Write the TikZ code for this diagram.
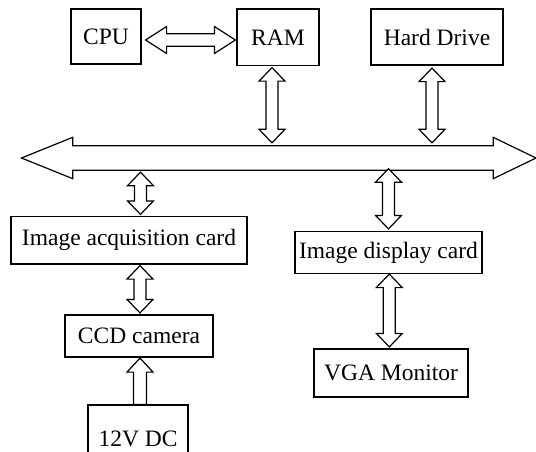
\documentclass[tikz,border=0pt]{standalone}
\usepackage{fontspec}
\setmainfont{Liberation Serif}
\usetikzlibrary{calc}
\tikzset{
  boxnode/.style={draw=black, line width=1.2pt, inner sep=0pt, font=\fontsize{23.5}{28}\selectfont},
  fatarrow/.style={draw=black, fill=white, line width=1.2pt, line join=miter},
}
% vertical double arrow: #1 top tip, #2 bottom tip
\newcommand\dblvert[2]{%
  \draw[fatarrow] let \p1=#1, \p2=#2 in
    (\x1,\y1) -- (\x1+13pt,\y1-13.5pt) -- (\x1+6pt,\y1-13.5pt) -- (\x1+6pt,\y2+13.5pt)
    -- (\x1+13pt,\y2+13.5pt) -- (\x1,\y2) -- (\x1-13pt,\y2+13.5pt) -- (\x1-6pt,\y2+13.5pt)
    -- (\x1-6pt,\y1-13.5pt) -- (\x1-13pt,\y1-13.5pt) -- cycle;}
\begin{document}
\begin{tikzpicture}[x=1pt,y=-1pt]
\useasboundingbox (0,0) rectangle (536,451);
% boxes
\node[boxnode, minimum width=70pt, minimum height=55pt] (cpu) at (106,36.5) {CPU};
\node[boxnode, minimum width=82pt, minimum height=56.5pt] (ram) at (278,37.25) {RAM};
\node[boxnode, minimum width=132pt, minimum height=56pt] (hd) at (437,37) {Hard Drive};
\node[boxnode, minimum width=236pt, minimum height=47.5pt] (iac) at (129,240.25) {Image acquisition card};
\node[boxnode, minimum width=187pt, minimum height=42pt] (idc) at (388.5,252.5) {Image display card};
\node[boxnode, minimum width=148pt, minimum height=42pt] (ccd) at (139,336) {CCD camera};
\node[boxnode, minimum width=154pt, minimum height=48pt] (vga) at (391,373) {VGA Monitor};
\node[boxnode, minimum width=100pt, minimum height=68pt] (psu) at (138,439) {12V DC};
% bus shaft (invisible node) and its arrow outline
\node[inner sep=0pt, minimum width=420pt, minimum height=24pt] (bus) at (283,158) {};
\coordinate (busL) at (21.5,158);
\coordinate (busR) at (536,158);
\draw[fatarrow] (bus.north west) -- (bus.north east) -- ($(bus.north east)+(0,-8.5)$) -- (busR)
  -- ($(bus.south east)+(0,8.5)$) -- (bus.south east) -- (bus.south west)
  -- ($(bus.south west)+(0,8.5)$) -- (busL) -- ($(bus.north west)+(0,-8.5)$) -- cycle;
% arrow columns
\coordinate (colR) at (272,0);
\coordinate (colH) at (432,0);
\coordinate (colL) at (140.5,0);
\coordinate (colD) at (388.5,0);
\coordinate (colV) at (389.3,0);
\coordinate (colC) at (140,0);
% CPU <-> RAM
\draw[fatarrow] let \p1=($(cpu.east)+(4,3.5)$), \p2=($(ram.west)+(-1,2.75)$) in
  (\x1,\y1) -- (\x1+21pt,\y1+13.5pt) -- (\x1+21pt,\y1+6.3pt) -- (\x2-21pt,\y1+6.3pt)
  -- (\x2-21pt,\y1+13.5pt) -- (\x2,\y1) -- (\x2-21pt,\y1-13.5pt) -- (\x2-21pt,\y1-6.3pt)
  -- (\x1+21pt,\y1-6.3pt) -- (\x1+21pt,\y1-13.5pt) -- cycle;
% vertical double arrows
\dblvert{($(ram.south -| colR)+(0,1.5)$)}{($(bus.north -| colR)+(0,-3)$)}
\dblvert{($(hd.south -| colH)+(0,2.5)$)}{($(bus.north -| colH)+(0,-3)$)}
\dblvert{($(bus.south -| colL)+(0,2)$)}{($(iac.north -| colL)+(0,-1.5)$)}
\dblvert{($(bus.south -| colD)+(0,-1.5)$)}{($(idc.north -| colD)+(0,-2)$)}
\dblvert{($(iac.south -| colC)+(0,1)$)}{($(ccd.north -| colC)+(0,-1.5)$)}
\dblvert{($(idc.south -| colV)+(0,0)$)}{($(vga.north -| colV)+(0,-1.5)$)}
% 12V DC -> CCD camera (single arrow)
\draw[fatarrow] let \p1=($(ccd.south -| colC)+(0,0.5)$), \p2=(psu.north -| colC) in
  (\x1,\y1) -- (\x1+13pt,\y1-14pt) -- (\x1+6.5pt,\y1-14pt) -- (\x1+6.5pt,\y2)
  -- (\x1-6.5pt,\y2) -- (\x1-6.5pt,\y1-14pt) -- (\x1-13pt,\y1-14pt) -- cycle;
\end{tikzpicture}
\end{document}
